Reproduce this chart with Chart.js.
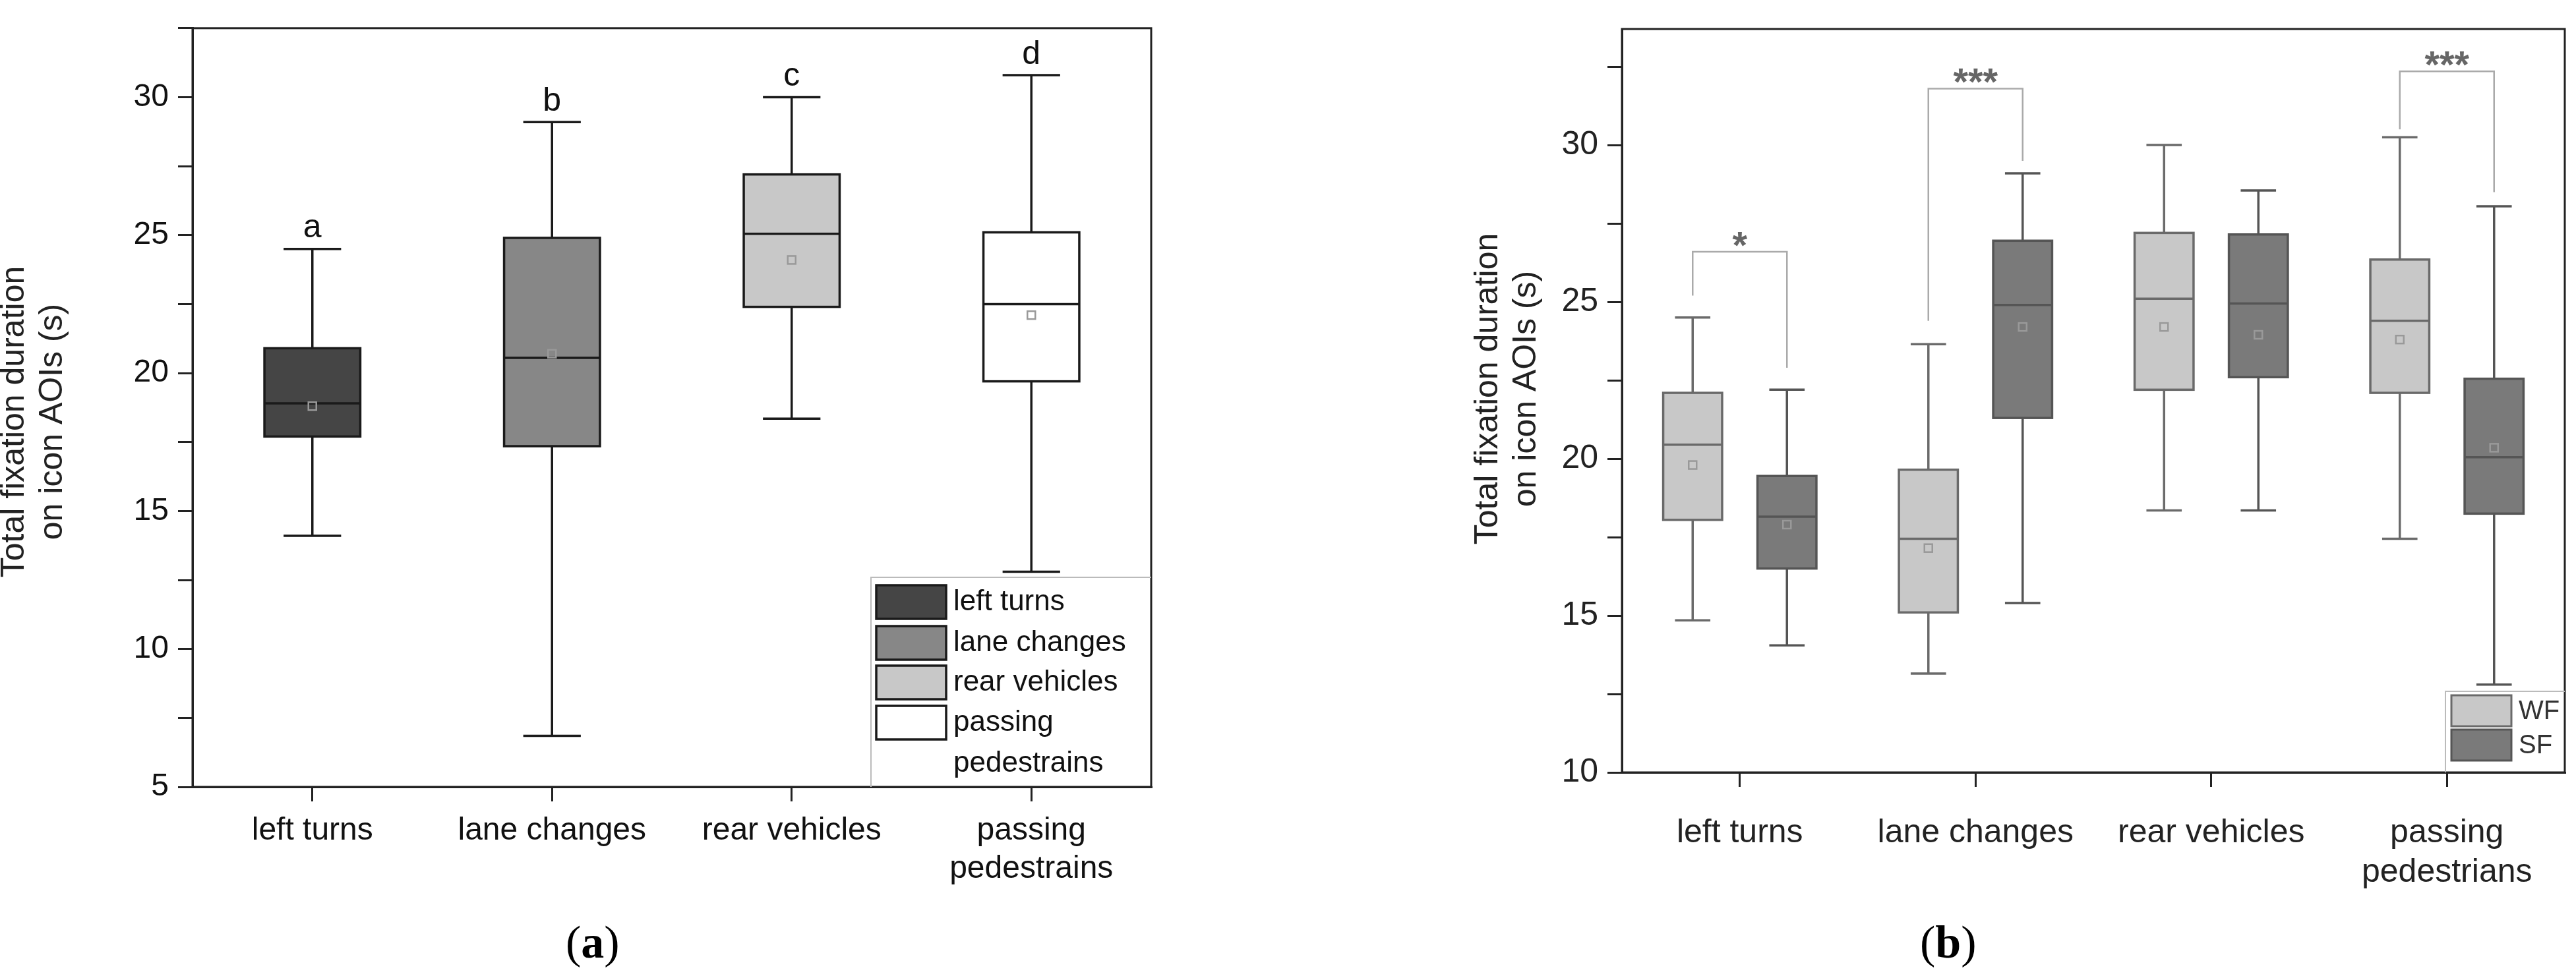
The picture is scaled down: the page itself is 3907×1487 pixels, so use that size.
<!DOCTYPE html>
<html><head><meta charset="utf-8">
<script src="https://cdn.jsdelivr.net/npm/chart.js@4.4.1/dist/chart.umd.min.js"></script>
<style>
body{margin:0;background:#fff;width:3907px;height:1487px;overflow:hidden;position:relative}
.p{position:absolute;top:0;height:1487px}
.cap{position:absolute;font-family:'Liberation Serif','DejaVu Serif',serif;font-size:70px;top:1390px}
</style></head><body>
<div class="p" style="left:0;width:1800px"><canvas id="ca"></canvas></div>
<div class="p" style="left:1950px;width:1957px"><canvas id="cb"></canvas></div>
<div class="cap" style="left:858px">(<b>a</b>)</div>
<div class="cap" style="left:2912px">(<b>b</b>)</div>
<script>
const FONT="'Liberation Sans Narrow','Liberation Sans',Arial,sans-serif";
// Panel a data
const catsA=[['left turns'],['lane changes'],['rear vehicles'],['passing','pedestrains']];
const lowA=[14.1,6.85,18.35,12.8];
const q1A=[17.7,17.35,22.4,19.7];
const medA=[18.9,20.55,25.05,22.5];
const q3A=[20.9,24.9,27.2,25.1];
const highA=[24.5,29.1,30.0,30.8];
const meanA=[18.8,20.7,24.1,22.1];
const lettersA=['a','b','c','d'];
const colorsA=['#454545','#878787','#c8c8c8','#ffffff'];
const legendA=[['left turns'],['lane changes'],['rear vehicles'],['passing','pedestrains']];
// Panel b data
const catsB=[['left turns'],['lane changes'],['rear vehicles'],['passing','pedestrians']];
const wfLow=[14.85,13.15,18.35,17.45], wfQ1=[18.05,15.1,22.2,22.1], wfMed=[20.45,17.45,25.1,24.4], wfQ3=[22.1,19.65,27.2,26.35], wfHigh=[24.5,23.65,30.0,30.25], wfMean=[19.8,17.15,24.2,23.8];
const sfLow=[14.05,15.4,18.35,12.8], sfQ1=[16.5,21.3,22.6,18.25], sfMed=[18.15,24.9,24.95,20.05], sfQ3=[19.45,26.95,27.15,22.55], sfHigh=[22.2,29.1,28.55,28.05], sfMean=[17.9,24.2,23.95,20.35];
const sigGroup=[1,2,4], sigLevel=[26.6,31.8,32.35], sigLeft=[25.2,24.4,30.5], sigRight=[22.9,29.5,28.5], sigLabel=['*','***','***'];

function drawBox(ctx,xs,ys,x,w,lo,q1,md,q3,hi,mn,fill,stroke,lw,capf){
  const xc=xs.getPixelForValue(x), xl=xs.getPixelForValue(x-w/2), xr=xs.getPixelForValue(x+w/2);
  const cap=(xr-xl)*capf;
  const Y=v=>ys.getPixelForValue(v);
  ctx.save();ctx.strokeStyle=stroke;ctx.lineWidth=lw;
  ctx.beginPath();ctx.moveTo(xc,Y(hi));ctx.lineTo(xc,Y(q3));ctx.moveTo(xc,Y(q1));ctx.lineTo(xc,Y(lo));
  ctx.moveTo(xc-cap,Y(hi));ctx.lineTo(xc+cap,Y(hi));ctx.moveTo(xc-cap,Y(lo));ctx.lineTo(xc+cap,Y(lo));ctx.stroke();
  ctx.fillStyle=fill;ctx.fillRect(xl,Y(q3),xr-xl,Y(q1)-Y(q3));ctx.strokeRect(xl,Y(q3),xr-xl,Y(q1)-Y(q3));
  ctx.beginPath();ctx.moveTo(xl,Y(md));ctx.lineTo(xr,Y(md));ctx.stroke();
  ctx.strokeStyle='#999';ctx.lineWidth=2.5;ctx.strokeRect(xc-6,Y(mn)-6,12,12);
  ctx.restore();
}
function frame(ctx,ca){ctx.save();ctx.strokeStyle='#222';ctx.lineWidth=3;ctx.strokeRect(ca.left,ca.top,ca.right-ca.left,ca.bottom-ca.top);ctx.restore();}
function yTitle(ctx,x,yc,size,col){ctx.save();ctx.translate(x,yc);ctx.rotate(-Math.PI/2);ctx.fillStyle=col;ctx.font=size+'px '+"'Liberation Sans',Arial,sans-serif";ctx.textAlign='center';ctx.textBaseline='middle';
  ctx.fillText('Total fixation duration',0,-size*0.55);ctx.fillText('on icon AOIs (s)',0,size*0.6);ctx.restore();}

function scales(cats,ymin,ymax,yw,xh,fs,col,xpad){
  return {
    x:{type:'linear',min:0.5,max:4.5,afterBuildTicks:s=>{s.ticks=[1,2,3,4].map(v=>({value:v}));},
       afterFit:s=>{s.height=xh;},
       ticks:{callback:v=>cats[v-1],font:{size:fs,family:FONT},color:col,padding:xpad,maxRotation:0,autoSkip:false},
       grid:{drawOnChartArea:false,tickLength:22,color:'#222',lineWidth:3},border:{color:'#222',width:3}},
    y:{min:ymin,max:ymax,afterBuildTicks:s=>{const t=[];for(let v=Math.ceil(ymin/2.5)*2.5;v<=ymax+1e-6;v+=2.5)t.push({value:v});s.ticks=t;},
       afterFit:s=>{s.width=yw;},
       ticks:{callback:v=>(Math.abs(v%5)<1e-6?v:''),font:{size:fs,family:FONT},color:col,padding:14},
       grid:{drawOnChartArea:false,tickLength:22,color:'#222',lineWidth:3},border:{color:'#222',width:3}}
  };
}

new Chart(document.getElementById('ca'),{type:'scatter',data:{datasets:[{data:[]}]},
  options:{responsive:true,maintainAspectRatio:false,animation:false,layout:{padding:{top:25,right:54}},
    plugins:{legend:{display:false},tooltip:{enabled:false}},
    scales:scales(catsA,5,32.5,292,293,48,'#111',16)},
  plugins:[{id:'boxA',afterDraw(c){const ctx=c.ctx,xs=c.scales.x,ys=c.scales.y;
    frame(ctx,c.chartArea);
    for(let i=0;i<4;i++){drawBox(ctx,xs,ys,i+1,0.4,lowA[i],q1A[i],medA[i],q3A[i],highA[i],meanA[i],colorsA[i],'#1a1a1a',3.5,0.3);
      ctx.save();ctx.fillStyle='#111';ctx.font='50px '+FONT;ctx.textAlign='center';ctx.textBaseline='bottom';
      ctx.fillText(lettersA[i],xs.getPixelForValue(i+1),ys.getPixelForValue(highA[i])-6);ctx.restore();}
    ctx.save();ctx.strokeStyle='#bbb';ctx.lineWidth=2;ctx.beginPath();ctx.moveTo(1321,1194);ctx.lineTo(1321,876);ctx.lineTo(1746,876);ctx.stroke();
    const rows=[888,950,1010,1071];
    for(let i=0;i<4;i++){ctx.fillStyle=colorsA[i];ctx.strokeStyle='#1a1a1a';ctx.lineWidth=3.5;ctx.fillRect(1329,rows[i],106,51);ctx.strokeRect(1329,rows[i],106,51);
      ctx.fillStyle='#111';ctx.font='44px '+FONT;ctx.textAlign='left';ctx.textBaseline='middle';
      legendA[i].forEach((t,j)=>ctx.fillText(t,1446,rows[i]+26+j*62));}
    ctx.restore();
    yTitle(ctx,50,640,50,'#222');
  }}]});

new Chart(document.getElementById('cb'),{type:'scatter',data:{datasets:[{data:[]}]},
  options:{responsive:true,maintainAspectRatio:false,animation:false,layout:{padding:{top:25,right:17}},
    plugins:{legend:{display:false},tooltip:{enabled:false}},
    scales:scales(catsB,10,33.7,510,315,50,'#222',40)},
  plugins:[{id:'boxB',afterDraw(c){const ctx=c.ctx,xs=c.scales.x,ys=c.scales.y;
    frame(ctx,c.chartArea);
    for(let i=0;i<4;i++){
      drawBox(ctx,xs,ys,i+1-0.2,0.25,wfLow[i],wfQ1[i],wfMed[i],wfQ3[i],wfHigh[i],wfMean[i],'#c8c8c8','#6a6a6a',3.5,0.3);
      drawBox(ctx,xs,ys,i+1+0.2,0.25,sfLow[i],sfQ1[i],sfMed[i],sfQ3[i],sfHigh[i],sfMean[i],'#7a7a7a','#555',3.5,0.3);}
    ctx.save();ctx.strokeStyle='#aaa';ctx.lineWidth=2.5;
    for(let k=0;k<3;k++){const g=sigGroup[k],xl=xs.getPixelForValue(g-0.2),xr=xs.getPixelForValue(g+0.2),yl=ys.getPixelForValue(sigLevel[k]);
      ctx.beginPath();ctx.moveTo(xl,ys.getPixelForValue(sigLeft[k]));ctx.lineTo(xl,yl);ctx.lineTo(xr,yl);ctx.lineTo(xr,ys.getPixelForValue(sigRight[k]));ctx.stroke();
      ctx.fillStyle='#666';ctx.font='bold 58px '+FONT;ctx.textAlign='center';ctx.textBaseline='alphabetic';ctx.fillText(sigLabel[k],(xl+xr)/2,yl+10);}
    const ox=-1950;ctx.strokeStyle='#bbb';ctx.lineWidth=2;ctx.beginPath();ctx.moveTo(3709+ox,1172);ctx.lineTo(3709+ox,1049);ctx.lineTo(3890+ox,1049);ctx.stroke();
    const lc=['#c8c8c8','#7a7a7a'],ls=['#6a6a6a','#555'],lt=['WF','SF'],ry=[1055,1107];
    for(let i=0;i<2;i++){ctx.fillStyle=lc[i];ctx.strokeStyle=ls[i];ctx.lineWidth=3;ctx.fillRect(3718+ox,ry[i],91,47);ctx.strokeRect(3718+ox,ry[i],91,47);
      ctx.fillStyle='#333';ctx.font='40px '+FONT;ctx.textAlign='left';ctx.textBaseline='middle';ctx.fillText(lt[i],3820+ox,ry[i]+25);}
    ctx.restore();
    yTitle(ctx,335,590,50,'#222');
  }}]});
</script></body></html>
